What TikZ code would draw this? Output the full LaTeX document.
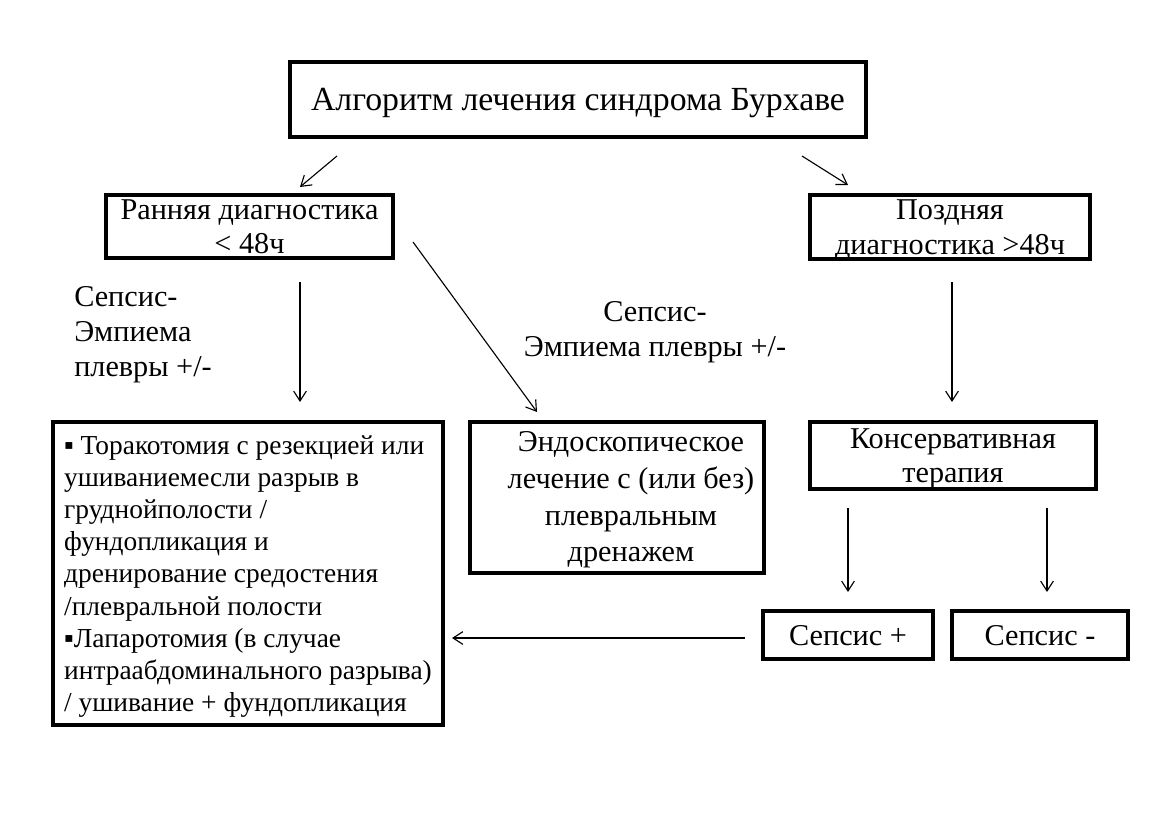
\documentclass[tikz,border=0pt]{standalone}
\usepackage{fontspec}
\setmainfont{Liberation Serif}
\usetikzlibrary{arrows.meta}
\tikzset{
    box/.style={
        draw,
        rectangle,
        line width=2.3pt,
        inner sep=0pt,
        align=center,
        text depth=0pt,
        font=\fontsize{21.5}{24.5}\selectfont
    },
    note/.style={
        inner sep=0pt,
        font=\fontsize{21.5}{24.8}\selectfont
    },
    arr/.style={
        -{Straight Barb[length=7pt, width=9pt]},
        line width=0.8pt
    }
}

\begin{document}
\begin{tikzpicture}[x=0.025cm, y=-0.025cm]
    \useasboundingbox (0,0) rectangle (1167,828);
    % Boxes
    \node[box, minimum width=14.4cm, minimum height=1.875cm,
        font=\fontsize{24}{28}\selectfont] (algo) at (578,99.5)
        {Алгоритм лечения синдрома Бурхаве};
    \node[box, minimum width=7.175cm, minimum height=1.575cm] (early) at (249.5,226.5)
        {Ранняя диагностика\\ < 48ч};
    \node[box, minimum width=7cm, minimum height=1.6cm] (late) at (950,227)
        {Поздняя\\ диагностика >48ч};
    \node[box, minimum width=9.75cm, minimum height=7.575cm, align=left,
        font=\fontsize{19.5}{22.9}\selectfont] (surgery) at (248,573.5)
        {▪ Торакотомия с резекцией или\\ ушиваниемесли разрыв в\\
         груднойполости /\\ фундопликация и\\ дренирование средостения\\
         /плевральной полости\\ ▪Лапаротомия (в случае\\
         интраабдоминального разрыва)\\ / ушивание + фундопликация};
    \node[box, minimum width=7.35cm, minimum height=3.775cm] (endo) at (617,497.5) {};
    \node[note, align=center, font=\fontsize{21.5}{26}\selectfont] (endoText) at (631,500)
        {Эндоскопическое\\ лечение с (или без)\\ плевральным\\ дренажем};
    \node[box, minimum width=7.15cm, minimum height=1.675cm] (conserv) at (953,455.5)
        {Консервативная\\ терапия};
    \node[box, minimum width=4.25cm, minimum height=1.2cm] (sepsisP) at (848,635)
        {Сепсис +};
    \node[box, minimum width=4.4cm, minimum height=1.2cm] (sepsisM) at (1040,635)
        {Сепсис -};

    % Notes
    \node[note, anchor=west, align=left] (noteL) at (74,335)
        {Сепсис-\\ Эмпиема\\ плевры +/-};
    \node[note, align=center] (noteM) at (655,332)
        {Сепсис-\\ Эмпиема плевры +/-};

    % Arrow ends
    \coordinate (algoL) at (337,156);
    \coordinate (earlyT) at (300,187);
    \coordinate (algoR) at (802,156);
    \coordinate (lateT) at (848,185);
    \coordinate (earlyB) at (300,282);
    \coordinate (surgeryT) at (300,402);
    \coordinate (earlyR) at (413,242);
    \coordinate (endoT) at (537,412);
    \coordinate (lateB) at (952,282);
    \coordinate (conservT) at (952,402);
    \coordinate (conservBL) at (848,508);
    \coordinate (sepsisPT) at (848,592);
    \coordinate (conservBR) at (1047,508);
    \coordinate (sepsisMT) at (1047,592);
    \coordinate (sepsisPL) at (745,638);
    \coordinate (surgeryR) at (452,638);

    % Edges
    \draw[arr] (algoL) -- (earlyT);
    \draw[arr] (algoR) -- (lateT);
    \draw[arr] (earlyB) -- (surgeryT);
    \draw[arr] (earlyR) -- (endoT);
    \draw[arr] (lateB) -- (conservT);
    \draw[arr] (conservBL) -- (sepsisPT);
    \draw[arr] (conservBR) -- (sepsisMT);
    \draw[arr] (sepsisPL) -- (surgeryR);
\end{tikzpicture}
\end{document}
